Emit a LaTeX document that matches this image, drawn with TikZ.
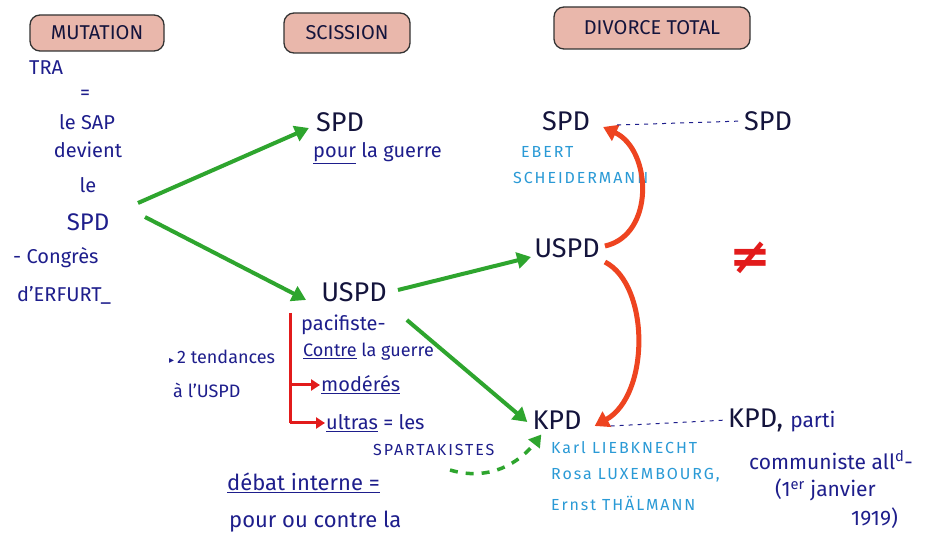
\documentclass[tikz,border=0pt]{standalone}
\usepackage{fontspec}
\setmainfont{Fira Sans}
\newfontfamily\dejavu{DejaVu Sans}
\newfontfamily\spaced{Fira Sans}[LetterSpace=12]
\usetikzlibrary{arrows.meta,calc}
\definecolor{ink}{HTML}{1E1E8C}
\definecolor{darkink}{HTML}{14143C}
\definecolor{lblue}{HTML}{2A9AD6}
\definecolor{gr}{HTML}{2EA52E}
\definecolor{rd}{HTML}{EE4420}
\definecolor{brk}{HTML}{E21B1B}
\definecolor{pinkfill}{HTML}{E9B7AB}
\tikzset{
  hdr/.style={draw=black!80, line width=1.3pt, fill=pinkfill, rounded corners=10pt,
    font=\fontsize{20}{22}\selectfont, text=darkink, inner sep=0pt},
  txt/.style={text=ink, font=\fontsize{20}{22}\selectfont, inner sep=1pt},
  big/.style={text=darkink, font=\fontsize{27}{29}\selectfont, inner sep=1pt},
  lb/.style={text=lblue, font=\spaced\fontsize{16}{18}\selectfont, inner sep=1pt},
  sm/.style={text=ink, font=\fontsize{18}{20}\selectfont, inner sep=1pt},
  garrow/.style={draw=gr, line width=4pt, -{Triangle[length=14pt,width=16pt]}},
  gdash/.style={draw=gr, line width=3.5pt, dash pattern=on 8pt off 8pt, -{Triangle[length=12pt,width=14pt]}},
  rarrow/.style={draw=rd, line width=5pt, -{Triangle[length=14pt,width=17pt]}},
  barrow/.style={draw=brk, line width=3pt, -{Triangle[length=9pt,width=11pt]}},
  dline/.style={draw=ink, line width=1pt, dash pattern=on 4pt off 5pt}
}
\begin{document}
\begin{tikzpicture}[x=1pt,y=-1pt]
\useasboundingbox[fill=white] (0,0) rectangle (932,534);

% headers
\node[hdr, minimum width=134pt, minimum height=36pt] (mut) at (97,33) {MUTATION};
\node[hdr, minimum width=126pt, minimum height=40pt] (sci) at (347,33) {SCISSION};
\node[hdr, minimum width=196pt, minimum height=42pt] (div) at (652,28) {DIVORCE TOTAL};

% left column
\node[txt, anchor=west] (tra) at (28,68) {TRA};
\node[txt] (eq) at (85,95) {=};
\node[txt] (sap) at (87,122) {le SAP};
\node[txt] (dev) at (88,150) {devient};
\node[txt] (le) at (88,185) {le};
\node[txt, font=\fontsize{24}{26}\selectfont] (spd0) at (88,222) {SPD};
\node[txt, anchor=west] (cong) at (12,258) {- Congrès};
\node[txt, anchor=west] (erf) at (16,295) {d'ERFURT\_};
\coordinate (g1) at (138,203);
\coordinate (g2) at (145,217);

% scission column
\node[big] (spd1) at (340,122) {SPD};
\node[txt, anchor=west] (pour) at (312,153) {\underline{pour} la guerre};
\node[big] (uspd1) at (354,292) {USPD};
\node[txt, anchor=west] (paci) at (300,325) {pacifiste-};
\node[txt, font=\fontsize{18}{20}\selectfont, anchor=west] (contre) at (302,352) {\underline{Contre} la guerre};
\node[txt, anchor=west] (mod) at (320,385) {\underline{modérés}};
\node[txt, anchor=west] (ultras) at (325,423) {\underline{ultras} = les};
\node[lb, text=ink, anchor=west] (spart) at (372,450) {SPARTAKISTES};
\node[sm, anchor=west] (tend) at (168,357) {{\dejavu\fontsize{10}{10}\selectfont ▸}\,2 tendances};
\node[sm, anchor=west] (auspd) at (172,390) {à l'USPD};
\node[txt, font=\fontsize{22}{24}\selectfont, anchor=west] (debat) at (226,483) {\underline{débat interne =}};
\node[txt, font=\fontsize{22}{24}\selectfont, anchor=west] (pourou) at (228,522) {pour ou contre la};

% red bracket
\coordinate (bt) at (290,313);
\coordinate (bm) at (290,385);
\coordinate (bb) at (290,423);
\draw[draw=brk, line width=3pt] (bt) -- (bb);
\draw[barrow] (bm) -- (mod.west);
\draw[barrow] (bb) -- (ultras.west);

% divorce column
\node[big] (spd2) at (566,121) {SPD};
\node[lb, anchor=west] (ebert) at (520,152) {EBERT};
\node[lb, anchor=west] (sch) at (512,178) {SCHEIDERMANN};
\node[big] (uspd2) at (567,248) {USPD};
\node[big] (kpd2) at (557,420) {KPD};
\node[lb, anchor=west] (karl) at (550,448) {Karl LIEBKNECHT};
\node[lb, anchor=west] (rosa) at (550,475) {Rosa LUXEMBOURG,};
\node[lb, anchor=west] (ernst) at (550,503) {Ernst THÄLMANN};
\node[big] (spd3) at (768,121) {SPD};
\node[big, anchor=west] (kpd3) at (727,420) {KPD, \textcolor{ink}{\fontsize{21}{23}\selectfont parti}};
\node[txt, font=\fontsize{21}{23}\selectfont, anchor=west] (comm) at (748,460) {communiste all\textsuperscript{d}-};
\node[txt, font=\fontsize{21}{23}\selectfont, anchor=west] (janv) at (774,490) {(1\textsuperscript{er} janvier};
\node[txt, font=\fontsize{21}{23}\selectfont, anchor=west] (y1919) at (850,518) {1919)};
\node[text=brk, font=\dejavu\bfseries\fontsize{50}{50}\selectfont, inner sep=0pt] (neq) at (750,258) {≠};

% green arrows
\draw[garrow] (g1) -- ($(spd1.west)+(-6,6)$);
\draw[garrow] (g2) -- ($(uspd1.west)+(-14,8)$);
\draw[garrow] ($(uspd1.east)+(10,-2)$) -- ($(uspd2.west)+(-2,9)$);
\draw[garrow] ($(paci.east)+(20,-5)$) -- ($(kpd2.west)+(-4,2)$);
\coordinate (c3) at (450,470);
\draw[gdash] (c3) .. controls (490,482) and (520,462) .. ($(kpd2.south west)+(10,4)$);

% red arcs
\draw[rarrow] ($(uspd2.east)+(4,-2)$) .. controls (655,235) and (652,150) .. ($(spd2.east)+(12,6)$);
\draw[rarrow] ($(uspd2.east)+(4,14)$) .. controls (650,285) and (650,395) .. ($(kpd2.east)+(12,6)$);

% dashed links
\draw[dline] ($(spd2.east)+(26,4)$) -- (spd3.west);
\draw[dline] ($(kpd2.east)+(28,6)$) -- (kpd3.west);
\end{tikzpicture}
\end{document}
